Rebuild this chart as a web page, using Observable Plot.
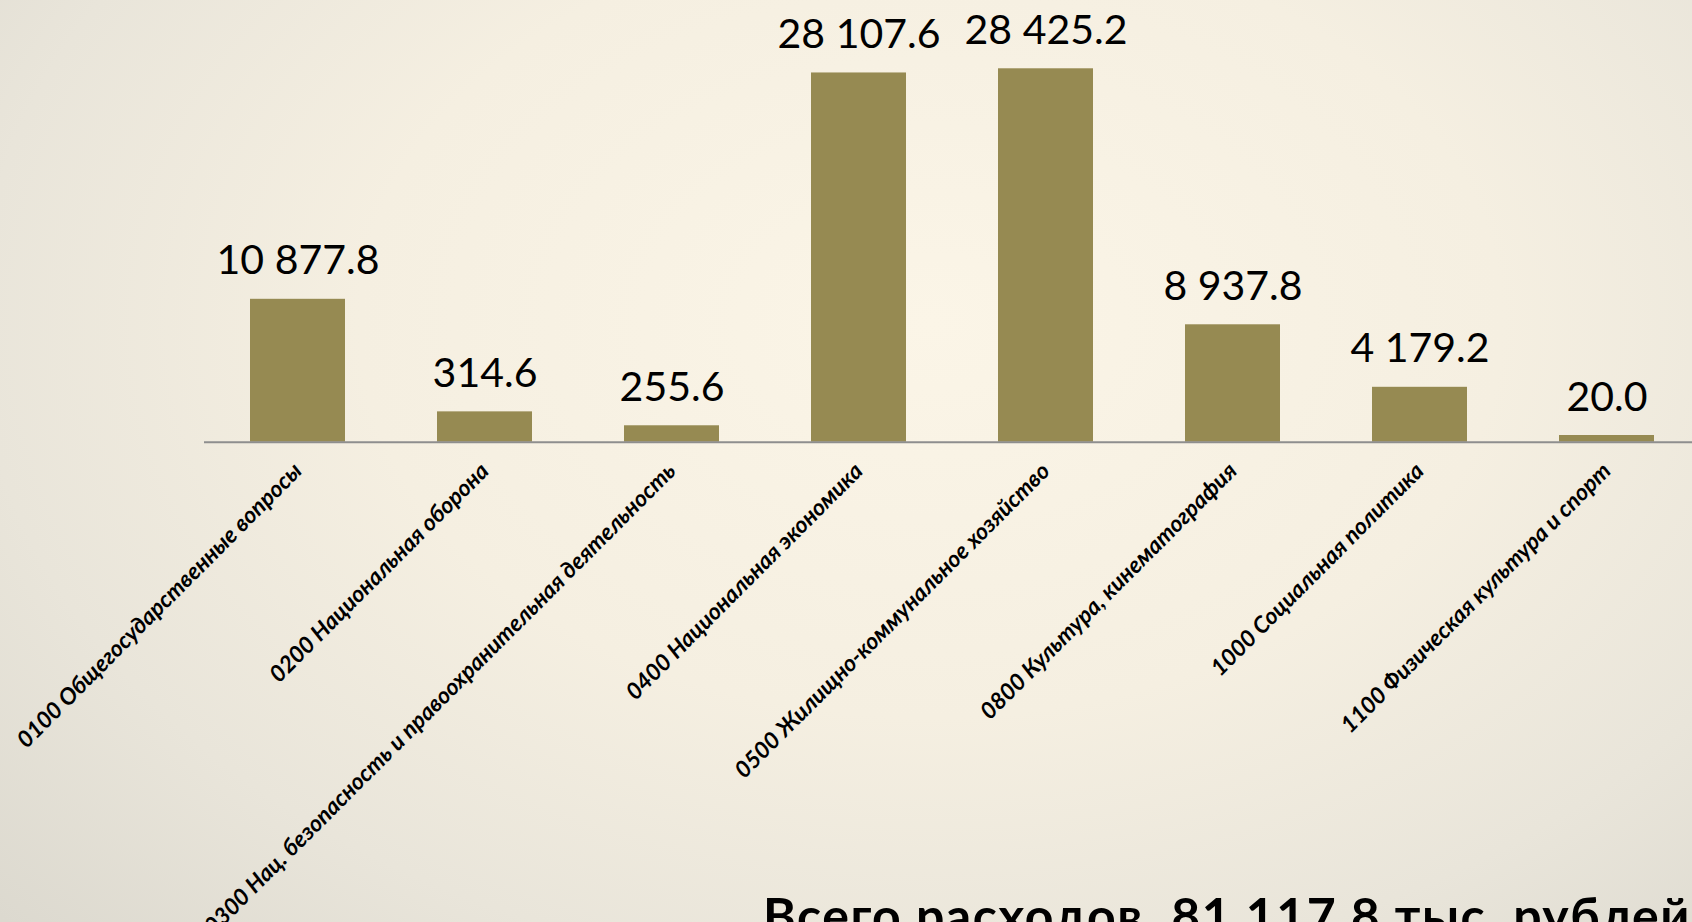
<!DOCTYPE html>
<html>
<head>
<meta charset="utf-8">
<script src="https://cdn.jsdelivr.net/npm/d3@7"></script>
<script src="https://cdn.jsdelivr.net/npm/@observablehq/plot@0.6"></script>
<style>
  html, body { margin: 0; padding: 0; width: 1692px; height: 922px; overflow: hidden; }
  body {
    background: radial-gradient(ellipse 75% 95% at 55% 35%, #fbf5e7 0%, #f5efe1 45%, #e9e5da 75%, #dcd9cf 100%);
    font-family: Lato, "Open Sans", sans-serif;
  }
  #chart svg { display: block; overflow: visible; max-width: none; }
  #total {
    font-family: Lato, "Open Sans", sans-serif;
    font-weight: bold;
    font-size: 50px;
    line-height: 50px;
    letter-spacing: 1.5px;
    margin-top: 0px;
    padding-left: 763px;
    white-space: pre;
    color: #000;
  }
</style>
</head>
<body>
<div id="chart"></div>
<div id="total"></div>
<script>
const categories = [
  "0100 Общегосударственные вопросы",
  "0200 Национальная оборона",
  "0300 Нац. безопасность и правоохранительная деятельность",
  "0400 Национальная экономика",
  "0500 Жилищно-коммунальное хозяйство",
  "0800 Культура, кинематография",
  "1000 Социальная политика",
  "1100 Физическая культура и спорт"
];
// bar heights as drawn in the picture
const barValues = [10877.8, 2310, 1250, 28107.6, 28425.2, 8937.8, 4179.2, 510];
// value labels printed above the bars
const valueLabels = ["10 877.8", "314.6", "255.6", "28 107.6", "28 425.2", "8 937.8", "4 179.2", "20.0"];
const totalText = "Всего расходов  81 117.8 тыс. рублей";

const data = categories.map((c, i) => ({cat: c, v: barValues[i], label: valueLabels[i]}));

const chart = Plot.plot({
  width: 1700,
  height: 890,
  marginLeft: 204,
  marginRight: 0,
  marginTop: 47.6,
  marginBottom: 448.3,
  style: {background: "transparent", overflow: "visible", maxWidth: "none"},
  x: {domain: categories, paddingInner: 0.49, paddingOuter: 0.245, label: null},
  y: {domain: [0, 30000], axis: null},
  marks: [
    Plot.barY(data, {x: "cat", y: "v", fill: "#968a52"}),
    Plot.ruleY([0], {stroke: "#8e8e8e", strokeWidth: 2}),
    Plot.text(data, {x: "cat", y: "v", text: "label", lineAnchor: "bottom", dy: -25,
      fontSize: 41, fontFamily: "Lato, 'Open Sans', sans-serif", fill: "#000"}),
    Plot.axisX({tickRotate: -45, tickSize: 0, tickPadding: 25, fontSize: 23,
      fontFamily: "Lato, 'Open Sans', sans-serif", fontWeight: "bold", fontStyle: "italic",
      fill: "#000", label: null})
  ]
});
document.getElementById("chart").appendChild(chart);
document.getElementById("total").textContent = totalText;
</script>
</body>
</html>
